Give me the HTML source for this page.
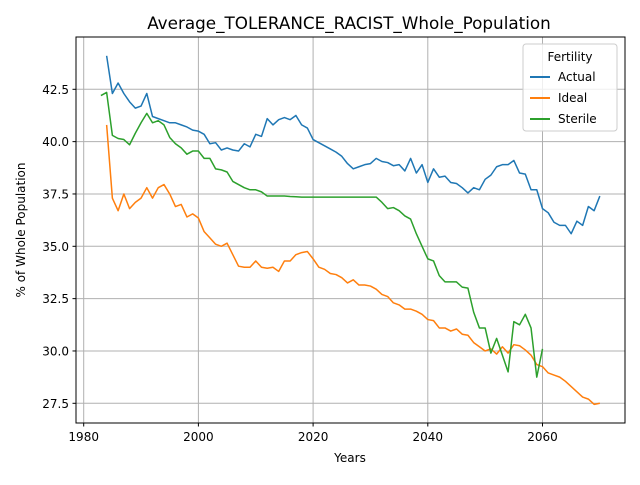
<!DOCTYPE html>
<html><head><meta charset="utf-8"><style>
body{margin:0;background:#fff}
svg{font-family:"DejaVu Sans","Liberation Sans",sans-serif}
</style></head><body>
<svg id="chart" width="640" height="480" viewBox="0 0 640 480">
<rect width="640" height="480" fill="#fff"/>
<text x="349" y="29" font-size="16.8" text-anchor="middle">Average_TOLERANCE_RACIST_Whole_Population</text>
<g id="grid"></g>
<g id="series"></g>
<rect x="76" y="37" width="549" height="386" fill="none" stroke="#000" stroke-width="1"/>
<g id="ticks"></g>
<text x="350" y="462" font-size="12" text-anchor="middle">Years</text>
<text transform="translate(25,230) rotate(-90)" font-size="12" text-anchor="middle">% of Whole Population</text>
<g>
<rect x="523" y="44" width="94" height="87" rx="3" fill="#fff" fill-opacity="0.8" stroke="#ccc"/>
<text x="570" y="61" font-size="12" text-anchor="middle">Fertility</text>
<g><line x1="530" y1="77" x2="550" y2="77" stroke="#1f77b4" stroke-width="2"/><text x="558" y="81" font-size="12">Actual</text></g>
<g><line x1="530" y1="98" x2="550" y2="98" stroke="#ff7f0e" stroke-width="2"/><text x="558" y="102" font-size="12">Ideal</text></g>
<g><line x1="530" y1="119" x2="550" y2="119" stroke="#2ca02c" stroke-width="2"/><text x="558" y="123" font-size="12">Sterile</text></g>
</g>
</svg>
<script>
const actualStart = 1984;
const actual = [44.1,42.3,42.8,42.3,41.9,41.6,41.7,42.3,41.2,41.1,41.0,40.9,40.9,40.8,40.7,40.55,40.5,40.35,39.9,39.95,39.6,39.7,39.6,39.55,39.9,39.75,40.35,40.25,41.1,40.8,41.05,41.15,41.05,41.25,40.8,40.65,40.1,39.95,39.8,39.65,39.5,39.3,38.95,38.7,38.8,38.9,38.95,39.2,39.05,39.0,38.85,38.9,38.6,39.2,38.5,38.9,38.05,38.7,38.3,38.35,38.05,38.0,37.8,37.55,37.8,37.7,38.2,38.4,38.8,38.9,38.9,39.1,38.5,38.45,37.7,37.7,36.8,36.6,36.15,36.0,36.0,35.6,36.2,36.0,36.9,36.7,37.4];
const idealStart = 1984;
const ideal = [40.8,37.3,36.7,37.5,36.8,37.1,37.3,37.8,37.3,37.8,37.95,37.5,36.9,37.0,36.4,36.55,36.35,35.7,35.4,35.1,35.0,35.15,34.6,34.05,34.0,34.0,34.3,34.0,33.95,34.0,33.8,34.3,34.3,34.6,34.7,34.75,34.4,34.0,33.9,33.7,33.65,33.5,33.25,33.4,33.15,33.15,33.1,32.95,32.7,32.6,32.3,32.2,32.0,32.0,31.9,31.75,31.5,31.45,31.1,31.1,30.95,31.05,30.8,30.75,30.4,30.2,30.0,30.1,29.85,30.2,29.9,30.3,30.25,30.05,29.8,29.35,29.25,28.95,28.85,28.75,28.55,28.3,28.05,27.8,27.7,27.45,27.5];
const sterileStart = 1983;
const sterile = [42.2,42.35,40.3,40.15,40.1,39.85,40.4,40.9,41.35,40.9,41.0,40.8,40.2,39.9,39.7,39.4,39.55,39.55,39.2,39.2,38.7,38.65,38.55,38.1,37.95,37.8,37.7,37.7,37.6,37.4,37.4,37.4,37.4,37.38,37.37,37.35,37.35,37.35,37.35,37.35,37.35,37.35,37.35,37.35,37.35,37.35,37.35,37.35,37.35,37.1,36.8,36.85,36.7,36.45,36.3,35.6,35.0,34.4,34.3,33.6,33.3,33.3,33.3,33.05,33.0,31.85,31.1,31.1,29.9,30.6,29.8,29.0,31.4,31.25,31.75,31.1,28.75,30.1];
const xTicks = [1980,2000,2020,2040,2060];
const yTicks = [27.5,30.0,32.5,35.0,37.5,40.0,42.5];

const NS='http://www.w3.org/2000/svg';
function X(v){return 83.7+(v-1980)*(542.5-83.7)/80;}
function Y(v){return 403.3-(v-27.5)*(403.3-89.3)/15;}
function mk(tag,attrs,parent){const e=document.createElementNS(NS,tag);for(const k in attrs)e.setAttribute(k,attrs[k]);parent.appendChild(e);return e;}
const grid=document.getElementById('grid'),ticks=document.getElementById('ticks'),series=document.getElementById('series');
xTicks.forEach(t=>{
  const g=mk('line',{x1:X(t),x2:X(t),y1:37,y2:423,stroke:'#b0b0b0','stroke-width':1},grid);
  
  
  mk('line',{x1:X(t),x2:X(t),y1:423,y2:426.5,stroke:'#000'},ticks);
  const l=mk('text',{x:X(t),y:441,'font-size':12,'text-anchor':'middle'},ticks);
  l.textContent=t;
  
  
});
yTicks.forEach(t=>{
  const g=mk('line',{x1:76,x2:625,y1:Y(t),y2:Y(t),stroke:'#b0b0b0','stroke-width':1},grid);
  
  
  mk('line',{x1:72.5,x2:76,y1:Y(t),y2:Y(t),stroke:'#000'},ticks);
  const l=mk('text',{x:69,y:Y(t)+4.5,'font-size':12,'text-anchor':'end'},ticks);
  l.textContent=t.toFixed(1);
  
  
});
function draw(arr,start,color,name){
  const pts=arr.map((v,i)=>X(start+i).toFixed(2)+','+Y(v).toFixed(2)).join(' ');
  const p=mk('polyline',{points:pts,fill:'none',stroke:color,'stroke-width':1.5,'stroke-linejoin':'round'},series);
  
  
}
draw(actual,actualStart,'#1f77b4','actual-line');
draw(ideal,idealStart,'#ff7f0e','ideal-line');
draw(sterile,sterileStart,'#2ca02c','sterile-line');
</script>
</body></html>
